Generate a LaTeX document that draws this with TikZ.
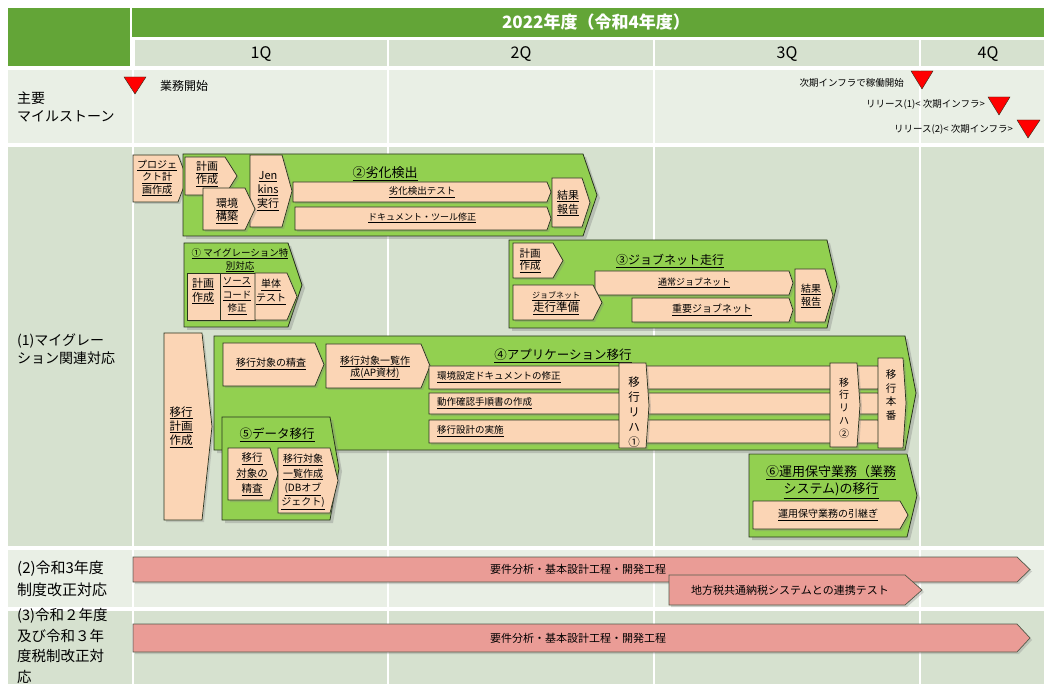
\documentclass[tikz,border=0pt]{standalone}
\usepackage{fontspec}
\setmainfont{Noto Sans CJK JP}
\usetikzlibrary{shadows}
\definecolor{hdgreen}{RGB}{99,165,55}
\definecolor{rowdark}{RGB}{214,225,207}
\definecolor{rowlight}{RGB}{233,239,229}
\definecolor{boxgreen}{RGB}{146,208,80}
\definecolor{peach}{RGB}{251,213,181}
\definecolor{pinkbar}{RGB}{234,156,150}
\definecolor{edge}{RGB}{40,50,30}
\newcommand{\fsz}[2]{\fontsize{#1}{#2}\selectfont}
% pentagon: style, x1, y1, x2, y2, tip
\newcommand{\chevbox}[6]{%
  \draw[#1] (#2,#3) -- ({#4-#6},#3) -- (#4,{(#3+#5)/2}) -- ({#4-#6},#5) -- (#2,#5) -- cycle;}

\begin{document}
\begin{tikzpicture}[x=1pt, y=-1pt,
    grp/.style={fill=boxgreen, draw=edge, line width=0.8pt,
      drop shadow={shadow xshift=3pt, shadow yshift=-3pt, opacity=0.35}},
    task/.style={fill=peach, draw=edge, line width=0.7pt,
      drop shadow={shadow xshift=2pt, shadow yshift=-2pt, opacity=0.3}},
    bar/.style={fill=pinkbar, draw=edge!80, line width=0.7pt,
      drop shadow={shadow xshift=2pt, shadow yshift=-2pt, opacity=0.3}},
    mile/.style={fill=red, draw=edge, line width=0.4pt},
    lbl/.style={inner sep=0pt, align=center}]
  \useasboundingbox (0,0) rectangle (1044,684);
  \fill[white] (0,0) rectangle (1044,684);
  % header
  \fill[hdgreen] (8,8) rectangle (130,66);
  \fill[hdgreen] (132,8) rectangle (1044,37);
  \fill[rowdark] (135,40) rectangle (1044,66);
  \node[lbl, white, font=\fsz{17}{20}\bfseries] (year) at (596,22) {2022年度（令和4年度）};
  % rows
  \fill[rowlight] (8,70) rectangle (1044,143);
  \fill[rowdark] (8,147) rectangle (1044,546);
  \fill[rowlight] (8,550) rectangle (1044,607);
  \fill[rowdark] (8,611) rectangle (1044,684);
  \foreach \cx in {133,388,654,920}
    \draw[white, line width=2.5pt] (\cx,40) -- (\cx,684);
  \node[lbl, font=\fsz{16}{18}] (q1) at (261,54) {1Q};
  \node[lbl, font=\fsz{16}{18}] (q2) at (521,54) {2Q};
  \node[lbl, font=\fsz{16}{18}] (q3) at (787,54) {3Q};
  \node[lbl, font=\fsz{16}{18}] (q4) at (988,54) {4Q};
  \node[lbl, anchor=west, align=left, font=\fsz{14}{18}] (rowms) at (17,107) {主要\\マイルストーン};
  \node[lbl, anchor=west, align=left, font=\fsz{14}{18}] (rowmig) at (17,349) {(1)マイグレー\\ション関連対応};
  \node[lbl, anchor=west, align=left, font=\fsz{15}{22}] (rowtax3) at (17,579) {(2)令和3年度\\制度改正対応};
  \node[lbl, anchor=west, align=left, font=\fsz{14.5}{20.5}] (rowtax2) at (17,646) {(3)令和２年度\\及び令和３年\\度税制改正対\\応};

  % milestones
  \draw[mile] (124,77) -- (146,77) -- (135,94) -- cycle;
  \node[lbl, anchor=west, font=\fsz{12}{14}] (msstart) at (160,86) {業務開始};
  \draw[mile] (911,71) -- (933,71) -- (922,89) -- cycle;
  \node[lbl, anchor=east, font=\fsz{9.5}{11}] (msinfra) at (904,83) {次期インフラで稼働開始};
  \draw[mile] (988,97) -- (1010,97) -- (999,115) -- cycle;
  \node[lbl, anchor=east, font=\fsz{9.5}{11}] (msrel1) at (985,104) {リリース(1)< 次期インフラ>};
  \draw[mile] (1017,120) -- (1040,120) -- (1028,138) -- cycle;
  \node[lbl, anchor=east, font=\fsz{9.5}{11}] (msrel2) at (1013,129) {リリース(2)< 次期インフラ>};

  % project plan
  \chevbox{task}{133}{155}{187}{202}{9}
  \node[lbl, font=\fsz{10}{12.5}] (pjplan) at (157,178) {\underline{プロジェ}\\\underline{クト計}\\\underline{画作成}};

  % (2) degradation check
  \chevbox{grp}{183}{154}{597}{236}{14}
  \node[lbl, font=\fsz{13}{15}] (rekka) at (385,174) {\underline{②劣化検出}};
  \chevbox{task}{185}{157}{237}{195}{12}
  \node[lbl, font=\fsz{11}{13}] (rkplan) at (207,174) {\underline{計画}\\\underline{作成}};
  \chevbox{task}{250}{155}{292}{227}{10}
  \node[lbl, font=\fsz{11}{14}] (jenkins) at (268,191) {\underline{Jen}\\\underline{kins}\\\underline{実行}};
  \chevbox{task}{203}{188}{255}{230}{10}
  \node[lbl, font=\fsz{11}{13}] (kankyo) at (227,211) {\underline{環境}\\\underline{構築}};
  \chevbox{task}{293}{182}{551}{202}{4}
  \node[lbl, font=\fsz{9.5}{11}] (rktest) at (422,192) {\underline{劣化検出テスト}};
  \chevbox{task}{295}{207}{551}{230}{4}
  \node[lbl, font=\fsz{9}{11}] (doctool) at (422,218) {\underline{ドキュメント・ツール修正}};
  \chevbox{task}{552}{178}{590}{227}{8}
  \node[lbl, font=\fsz{11}{14}] (rkreport) at (568,203) {\underline{結果}\\\underline{報告}};

  % (1) special migration
  \chevbox{grp}{184}{243}{302}{327}{14}
  \node[lbl, font=\fsz{9.5}{13}] (mgsp) at (240,260) {\underline{① マイグレーション特}\\\underline{別対応}};
  \draw[task] (187,273) rectangle (220,320);
  \draw[task] (220,273) rectangle (255,320);
  \chevbox{task}{255}{273}{297}{320}{10}
  \node[lbl, font=\fsz{11}{14}] (mgplan) at (203,291) {\underline{計画}\\\underline{作成}};
  \node[lbl, font=\fsz{9.5}{13.5}] (srcfix) at (237,296) {\underline{ソース}\\\underline{コード}\\\underline{修正}};
  \node[lbl, font=\fsz{10}{14}] (unittest) at (271,292) {\underline{単体}\\\underline{テスト}};

  % (3) jobnet
  \chevbox{grp}{509}{240}{837}{328}{10}
  \node[lbl, font=\fsz{12}{14}] (jobnet) at (670,261) {\underline{③ジョブネット走行}};
  \chevbox{task}{513}{243}{563}{278}{10}
  \node[lbl, align=left, font=\fsz{10.5}{12}] (jnplan) at (530,261) {\underline{計画}\\\underline{作成}};
  \chevbox{task}{595}{271}{793}{295}{4}
  \node[lbl, font=\fsz{9}{11}] (regular) at (694,283) {\underline{通常ジョブネット}};
  \chevbox{task}{632}{298}{793}{322}{4}
  \node[lbl, font=\fsz{10}{12}] (critical) at (712,310) {\underline{重要ジョブネット}};
  \chevbox{task}{513}{285}{602}{320}{9}
  \node[lbl] (jnprep) at (556,303) {{\fsz{8}{10}\underline{ジョブネット}}\\{\fsz{11.5}{13}\underline{走行準備}}};
  \chevbox{task}{795}{269}{833}{322}{8}
  \node[lbl, font=\fsz{10}{13}] (jnreport) at (811,296) {\underline{結果}\\\underline{報告}};

  % migration plan
  \chevbox{task}{164}{333}{212}{520}{10}
  \node[lbl, font=\fsz{11.5}{14}] (ikoplan) at (181,427) {\underline{移行}\\\underline{計画}\\\underline{作成}};

  % (4) application migration
  \chevbox{grp}{214}{336}{916}{450}{11}
  \node[lbl, font=\fsz{12.5}{14}] (appmig) at (563,356) {\underline{④アプリケーション移行}};
  \chevbox{task}{223}{343}{324}{386}{9}
  \node[lbl, font=\fsz{10}{12}] (apcheck) at (271,364) {\underline{移行対象の精査}};
  \chevbox{task}{326}{344}{430}{388}{9}
  \node[lbl, font=\fsz{10}{12}] (aplist) at (375,368) {\underline{移行対象一覧作}\\\underline{成(AP資材)}};
  \chevbox{task}{429}{366}{882}{389}{4}
  \chevbox{task}{429}{393}{882}{414}{4}
  \chevbox{task}{429}{420}{882}{443}{4}
  \node[lbl, anchor=west, font=\fsz{9.5}{11}] (envdoc) at (437,377) {\underline{環境設定ドキュメントの修正}};
  \node[lbl, anchor=west, font=\fsz{9.5}{11}] (opsdoc) at (437,403) {\underline{動作確認手順書の作成}};
  \node[lbl, anchor=west, font=\fsz{9.5}{11}] (design) at (437,431) {\underline{移行設計の実施}};
  \chevbox{task}{619}{363}{649}{448}{3}
  \node[lbl, font=\fsz{11.5}{15}] (reha1) at (634,412) {移\\行\\リ\\ハ\\①};
  \chevbox{task}{830}{363}{860}{447}{3}
  \node[lbl, font=\fsz{10}{12.8}] (reha2) at (844,408) {移\\行\\リ\\ハ\\②};
  \chevbox{task}{878}{358}{906}{448}{3}
  \node[lbl, font=\fsz{10.5}{13.5}] (honban) at (891,395) {移\\行\\本\\番};

  % (5) data migration
  \chevbox{grp}{222}{417}{339}{520}{9}
  \node[lbl, font=\fsz{12.5}{14}] (datamig) at (277,435) {\underline{⑤データ移行}};
  \chevbox{task}{228}{448}{278}{500}{8}
  \node[lbl, font=\fsz{10.5}{15.5}] (dbcheck) at (252,474) {\underline{移行}\\\underline{対象の}\\\underline{精査}};
  \chevbox{task}{278}{448}{338}{513}{8}
  \node[lbl, font=\fsz{10}{14.3}] (dblist) at (303,482) {\underline{移行対象}\\\underline{一覧作成}\\\underline{(DBオブ}\\\underline{ジェクト)}};

  % (6) operations
  \chevbox{grp}{749}{454}{917}{537}{10}
  \node[lbl, font=\fsz{13}{17}] (opsmig) at (831,482) {\underline{⑥運用保守業務（業務}\\\underline{システム)の移行}};
  \chevbox{task}{753}{501}{908}{529}{8}
  \node[lbl, font=\fsz{10}{12}] (handover) at (828,515) {\underline{運用保守業務の引継ぎ}};

  % (2) tax reform R3
  \chevbox{bar}{133}{557}{1030}{582}{13}
  \node[lbl, font=\fsz{11}{13}] (req3) at (578,569) {要件分析・基本設計工程・開発工程};
  \chevbox{bar}{669}{575}{922}{605}{17}
  \node[lbl, font=\fsz{11}{13}] (linktest) at (790,590) {地方税共通納税システムとの連携テスト};

  % (3) tax reform R2/R3
  \chevbox{bar}{133}{624}{1030}{652}{13}
  \node[lbl, font=\fsz{11}{13}] (req2) at (578,638) {要件分析・基本設計工程・開発工程};
\end{tikzpicture}
\end{document}
